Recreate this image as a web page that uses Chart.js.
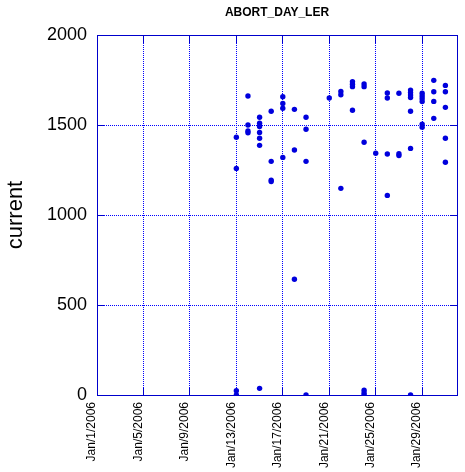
<!DOCTYPE html>
<html><head><meta charset="utf-8">
<script src="https://cdn.jsdelivr.net/npm/chart.js@4"></script>
<style>html,body{margin:0;padding:0;background:#fff}</style>
</head><body>
<canvas id="c" width="465" height="472"></canvas>
<script>
const chartTitle = 'ABORT_DAY_LER';
const yTitle = 'current';
const tickDays = [1, 5, 9, 13, 17, 21, 25, 29];
const xTickLabels = ['Jan/1/2006','Jan/5/2006','Jan/9/2006','Jan/13/2006','Jan/17/2006','Jan/21/2006','Jan/25/2006','Jan/29/2006'];
const yTicks = [0, 500, 1000, 1500, 2000];
const yTickLabels = ['0', '500', '1000', '1500', '2000'];

// day of January 2006 for each point, and its value
const pointDays = [
  13,13,13,13,
  14,14,14,14,
  15,15,15,15,15,15,15,
  16,16,16,16,
  17,17,17,17,
  18,18,18,
  19,19,19,19,
  21,
  22,22,22,
  23,23,23,23,
  24,24,24,24,24,24,
  25,
  26,26,26,26,
  27,27,27,
  28,28,28,28,28,28,28,
  29,29,29,29,29,29,
  30,30,30,30,
  31,31,31,31,31
];
const pointValues = [
  1432,1259,24,0,
  1661,1500,1467,1457,
  1543,1510,1492,1459,1426,1387,37,
  1576,1298,1194,1186,
  1657,1620,1593,1320,
  1587,1361,643,
  1543,1476,1298,0,
  1650,
  1686,1668,1148,
  1741,1727,1713,1582,
  1728,1713,1404,26,11,0,
  1343,
  1678,1650,1339,1109,
  1676,1340,1330,
  1694,1680,1666,1653,1576,1370,0,
  1676,1661,1646,1630,1505,1488,
  1748,1685,1631,1537,
  1720,1685,1598,1426,1293
];

const AXIS = '#0000CC';
const GRID = '#0000FF';
const DOT = '#0000DD';
const FONT = "'Liberation Sans', Arial, sans-serif";

const points = pointDays.map((d, i) => ({x: d, y: pointValues[i]}));

function align(p){ return Math.round(p - 0.5) + 0.5; }

const inwardTicks = {
  id: 'inwardTicks',
  beforeDatasetsDraw(chart){
    const {ctx, chartArea: a, scales} = chart;
    const x = scales.x, y = scales.y;
    ctx.save();
    ctx.strokeStyle = AXIS; ctx.lineWidth = 1; ctx.setLineDash([]);
    ctx.beginPath();
    tickDays.forEach(d => {
      const px = align(x.getPixelForValue(d));
      ctx.moveTo(px, a.bottom); ctx.lineTo(px, a.bottom - 7);
      ctx.moveTo(px, a.top); ctx.lineTo(px, a.top + 8);
    });
    yTicks.forEach(v => {
      const py = align(y.getPixelForValue(v));
      ctx.moveTo(a.left, py); ctx.lineTo(a.left + 7, py);
      ctx.moveTo(a.right, py); ctx.lineTo(a.right - 7, py);
    });
    ctx.stroke();
    ctx.restore();
  }
};

new Chart(document.getElementById('c'), {
  type: 'scatter',
  data: { datasets: [{
    data: points,
    pointRadius: 2.7,
    pointBackgroundColor: DOT,
    pointBorderColor: DOT,
    pointBorderWidth: 0,
    showLine: false
  }]},
  options: {
    responsive: false,
    animation: false,
    layout: { padding: 0 },
    plugins: { legend: { display: false }, tooltip: { enabled: false } },
    scales: {
      x: {
        type: 'linear', position: 'bottom', min: 1, max: 32,
        afterBuildTicks: s => { s.ticks = tickDays.map(v => ({value: v})); },
        afterFit: s => { s.height = 77; },
        grid: { color: GRID, lineWidth: 1, drawTicks: false },
        border: { display: true, color: AXIS, width: 1, dash: [1, 1] },
        ticks: {
          autoSkip: false, minRotation: 90, maxRotation: 90, padding: 7, labelOffset: -5,
          color: '#000', font: { family: FONT, size: 12 },
          callback: (v) => xTickLabels[tickDays.indexOf(v)]
        }
      },
      x2: {
        type: 'linear', position: 'top', min: 1, max: 32,
        afterFit: s => { s.height = 35; },
        grid: { display: false, drawTicks: false },
        border: { display: true, color: AXIS, width: 1 },
        ticks: { display: false },
        title: { display: true, text: chartTitle, color: '#000',
          font: { family: FONT, size: 12, weight: 'bold' }, padding: { top: 5, bottom: 0 } }
      },
      y: {
        type: 'linear', position: 'left', min: 0, max: 2000,
        afterBuildTicks: s => { s.ticks = yTicks.map(v => ({value: v})); },
        afterFit: s => { s.width = 97; },
        grid: { color: GRID, lineWidth: 1, drawTicks: false },
        border: { display: true, color: AXIS, width: 1, dash: [1, 1] },
        ticks: { padding: 10, color: '#000', font: { family: FONT, size: 18 },
          callback: (v) => yTickLabels[yTicks.indexOf(v)] },
        title: { display: true, text: yTitle, color: '#000',
          font: { family: FONT, size: 22 }, padding: { top: 3, bottom: 0 } }
      },
      y2: {
        type: 'linear', position: 'right', min: 0, max: 2000,
        afterFit: s => { s.width = 8; },
        grid: { display: false, drawTicks: false },
        border: { display: true, color: AXIS, width: 1 },
        ticks: { display: false }
      }
    }
  },
  plugins: [inwardTicks]
});
</script>
</body></html>
